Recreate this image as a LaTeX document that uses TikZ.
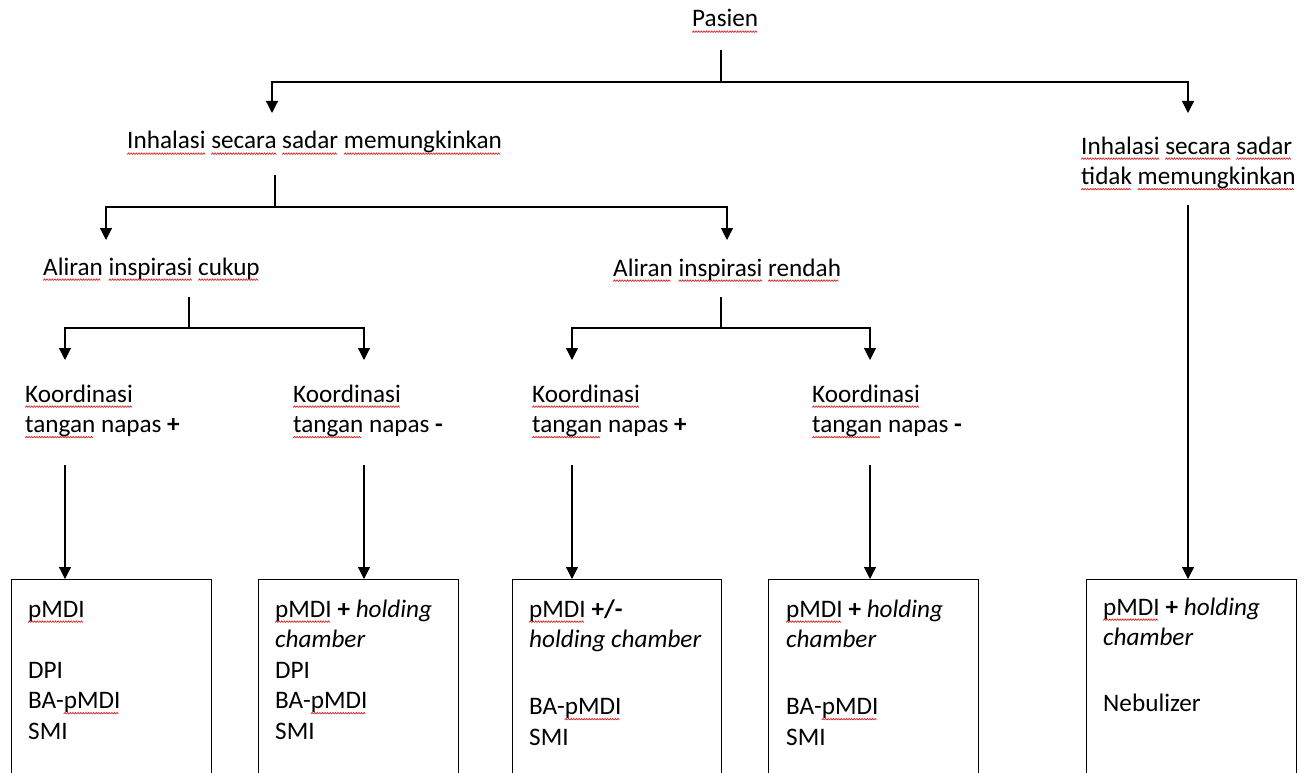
\documentclass[tikz,border=0pt]{standalone}
\usepackage{fontspec}
\setmainfont{Carlito}
\usetikzlibrary{arrows.meta}
\definecolor{spell}{RGB}{215,40,40}
\newsavebox\wavebox
\newsavebox\wordbox
\newcommand\sq[1]{\sbox\wordbox{#1}\rlap{\lower5.5pt\hbox to\wd\wordbox{\leaders\copy\wavebox\hfil}}\usebox\wordbox}
\newcommand\rows[1]{\vtop{\baselineskip=30.5pt\lineskiplimit=-100pt\lineskip=0pt\halign{##\hfil\cr#1\crcr}}}
\tikzset{
  txt/.style={anchor=base west, inner sep=0pt, font=\fontsize{25.2}{30.5}\selectfont},
  ln/.style={line width=1.2pt},
  arr/.style={line width=1.2pt, -{Triangle[length=12pt,width=12pt]}},
  boxn/.style={draw, line width=1pt, anchor=north west, inner sep=0pt, minimum height=240pt}
}
\begin{document}
\sbox\wavebox{\begin{pgfpicture}%
\pgfpathrectangle{\pgfpointorigin}{\pgfpoint{2.6pt}{1.6pt}}\pgfusepath{use as bounding box}%
\pgfsetlinewidth{0.75pt}\pgfsetstrokecolor{spell}%
\pgfpathmoveto{\pgfpoint{0pt}{0pt}}\pgfpathlineto{\pgfpoint{1.3pt}{1.6pt}}\pgfpathlineto{\pgfpoint{2.6pt}{0pt}}\pgfusepath{stroke}%
\end{pgfpicture}}%
\begin{tikzpicture}[x=1pt,y=-1pt]
\useasboundingbox (0,0) rectangle (1306,773);
% text nodes
\node[txt] (pasien) at (692,27) {\sq{Pasien}};
\node[txt] (inh) at (127,149) {\sq{Inhalasi} \sq{secara} \sq{sadar} \sq{memungkinkan}};
\node[txt] (inhR) at (1081,154) {\rows{\sq{Inhalasi} \sq{secara} \sq{sadar}\cr \sq{tidak} \sq{memungkinkan}}};
\node[txt] (alC) at (43,275) {\sq{Aliran} \sq{inspirasi} \sq{cukup}};
\node[txt] (alR) at (613,276) {\sq{Aliran} \sq{inspirasi} \sq{rendah}};
\node[txt] (k1) at (25,402) {\rows{\sq{Koordinasi}\cr \sq{tangan} napas \textbf{+}}};
\node[txt] (k2) at (293,402) {\rows{\sq{Koordinasi}\cr \sq{tangan} napas \textbf{-}}};
\node[txt] (k3) at (532,402) {\rows{\sq{Koordinasi}\cr \sq{tangan} napas \textbf{+}}};
\node[txt] (k4) at (812,402) {\rows{\sq{Koordinasi}\cr \sq{tangan} napas \textbf{-}}};
% boxes
\node[boxn, minimum width=200pt] (b1) at (11,579) {};
\node[boxn, minimum width=200pt] (b2) at (258,579) {};
\node[boxn, minimum width=209pt] (b3) at (512,579) {};
\node[boxn, minimum width=210pt] (b4) at (768,579) {};
\node[boxn, minimum width=210pt] (b5) at (1086,579) {};
\node[txt] (b1t) at (28,617) {\rows{\sq{pMDI}\cr\cr DPI\cr BA-\sq{pMDI}\cr SMI}};
\node[txt] (b2t) at (275,617) {\rows{\sq{pMDI} \textbf{+} \textit{holding}\cr \textit{chamber}\cr DPI\cr BA-\sq{pMDI}\cr SMI}};
\node[txt] (b3t) at (529,617) {\rows{\sq{pMDI} \textbf{+/-}\cr \textit{holding chamber}\cr\noalign{\vskip6pt}\cr BA-\sq{pMDI}\cr SMI}};
\node[txt] (b4t) at (786,617) {\rows{\sq{pMDI} \textbf{+} \textit{holding}\cr \textit{chamber}\cr\noalign{\vskip6pt}\cr BA-\sq{pMDI}\cr SMI}};
\node[txt] (b5t) at (1103,615) {\rows{\sq{pMDI} \textbf{+} \textit{holding}\cr \textit{chamber}\cr\noalign{\vskip5pt}\cr Nebulizer}};
% junction coordinates
\coordinate (p0) at (721,50);  \coordinate (p1) at (721,82);
\coordinate (tL) at (272,113); \coordinate (tR) at (1188,113);
\coordinate (i0) at (275,175); \coordinate (i1) at (275,207);
\coordinate (aC) at (106,240); \coordinate (aR) at (727,240);
\coordinate (r0) at (1188,205);
\coordinate (c0) at (189,297); \coordinate (c1) at (189,328);
\coordinate (kA) at (65,360);  \coordinate (kB) at (364,360);
\coordinate (d0) at (721,297); \coordinate (d1) at (721,328);
\coordinate (kC) at (572,360); \coordinate (kD) at (870,360);
\coordinate (s1) at (65,465);  \coordinate (s2) at (364,465);
\coordinate (s3) at (572,465); \coordinate (s4) at (870,465);
% connectors
\draw[ln] (p0) -- (p1);
\draw[arr] (p1) -| (tL);
\draw[arr] (p1) -| (tR);
\draw[ln] (i0) -- (i1);
\draw[arr] (i1) -| (aC);
\draw[arr] (i1) -| (aR);
\draw[ln] (c0) -- (c1);
\draw[arr] (c1) -| (kA);
\draw[arr] (c1) -| (kB);
\draw[ln] (d0) -- (d1);
\draw[arr] (d1) -| (kC);
\draw[arr] (d1) -| (kD);
\draw[arr] (r0) -- (b5.north -| r0);
\draw[arr] (s1) -- (b1.north -| s1);
\draw[arr] (s2) -- (b2.north -| s2);
\draw[arr] (s3) -- (b3.north -| s3);
\draw[arr] (s4) -- (b4.north -| s4);
\end{tikzpicture}
\end{document}
